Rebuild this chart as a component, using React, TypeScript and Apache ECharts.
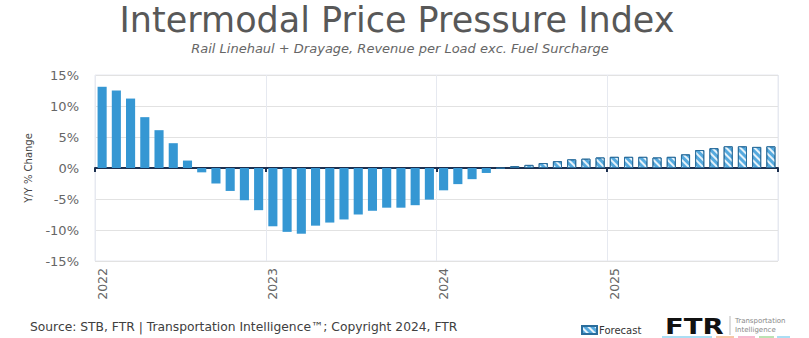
import React, { useEffect, useRef } from "react";
import * as echarts from "echarts";

const months: string[] = [];
for (const y of [2022, 2023, 2024, 2025]) {
  for (let m = 1; m <= 12; m++) months.push(`${y}-${m < 10 ? "0" + m : m}`);
}

// Actual Y/Y % change, Jan 2022 - Apr 2024
const actualValues = [
  13.1, 12.5, 11.2, 8.2, 6.1, 4.0, 1.2, -0.7, -2.5, -3.7, -5.2, -6.8,
  -9.4, -10.3, -10.6, -9.3, -8.8, -8.3, -7.5, -6.9, -6.4, -6.4, -6.0, -5.1,
  -3.6, -2.6, -1.8, -0.8,
];
// Forecast Y/Y % change, May 2024 - Dec 2025
const forecastValues = [
  -0.1, 0.3, 0.5, 0.8, 1.1, 1.4, 1.5, 1.7,
  1.8, 1.8, 1.8, 1.7, 1.8, 2.2, 2.9, 3.2, 3.5, 3.5, 3.4, 3.5,
];
const yTicks = [-15, -10, -5, 0, 5, 10, 15];

const FONT = "DejaVu Sans";

export default function App() {
  const ref = useRef<HTMLDivElement>(null);
  useEffect(() => {
    if (!ref.current) return;
    const chart = echarts.init(ref.current, undefined, { renderer: "svg" });
    const nA = actualValues.length;
    const actualData = months.map((_, i) => (i < nA ? actualValues[i] : null));
    const forecastData = months.map((_, i) => (i >= nA ? forecastValues[i - nA] : null));

    chart.setOption({
      animation: false,
      backgroundColor: "#ffffff",
      grid: {
        left: 95,
        right: 31,
        top: 75,
        bottom: 77,
        show: true,
        borderColor: "#e6e9f0",
        borderWidth: 1,
      },
      legend: {
        data: ["Forecast"],
        left: 576,
        top: 320,
        itemWidth: 15,
        itemHeight: 8,
        itemGap: 2,
        icon: "rect",
        textStyle: { fontSize: 10, color: "#333", fontFamily: FONT, padding: [0, 0, 0, -3] },
      },
      xAxis: [
        {
          type: "category",
          data: months,
          position: "bottom",
          axisLine: { show: false, onZero: false },
          axisTick: { show: false },
          axisLabel: {
            interval: 11,
            rotate: 90,
            margin: 7,
            fontSize: 12.5,
            color: "#666",
            fontFamily: FONT,
            formatter: (v: string) => v.slice(0, 4),
          },
          splitLine: { show: true, interval: 11, lineStyle: { color: "#e6e9f0", width: 1 } },
        },
        {
          type: "category",
          data: months,
          position: "bottom",
          axisLine: { show: true, onZero: true, lineStyle: { color: "#1c2f4f", width: 2 } },
          axisTick: { show: true, interval: 11, length: 4, lineStyle: { color: "#1c2f4f", width: 2 } },
          axisLabel: { show: false },
          splitLine: { show: false },
        },
      ],
      yAxis: {
        type: "value",
        min: yTicks[0],
        max: yTicks[yTicks.length - 1],
        interval: 5,
        name: "Y/Y % Change",
        nameLocation: "middle",
        nameGap: 62,
        nameTextStyle: { fontSize: 10, color: "#444", fontFamily: FONT },
        axisLine: { show: false },
        axisTick: { show: false },
        axisLabel: {
          margin: 16,
          fontSize: 13,
          color: "#666",
          fontFamily: FONT,
          formatter: (v: number) => `${v}%`,
        },
        splitLine: { lineStyle: { color: "#e2e2e2", width: 1 } },
      },
      series: [
        {
          name: "Actual",
          type: "bar",
          xAxisIndex: 0,
          data: actualData,
          barCategoryGap: "36%",
          barGap: "-100%",
          itemStyle: { color: "#3597d3" },
        },
        {
          name: "Forecast",
          type: "bar",
          xAxisIndex: 0,
          data: forecastData,
          barCategoryGap: "36%",
          barGap: "-100%",
          itemStyle: {
            color: "#55a9de",
            borderColor: "#2a6d9c",
            borderWidth: 1,
            decal: {
              symbol: "rect",
              color: "rgba(255,255,255,0.85)",
              dashArrayX: [1, 0],
              dashArrayY: [2, 3],
              rotation: Math.PI / 4,
            },
          },
        },
      ],
      graphic: [
        {
          type: "text",
          x: 397,
          y: 20,
          style: {
            text: "Intermodal Price Pressure Index",
            fontSize: 35,
            fontFamily: "Liberation Sans Narrow, " + FONT,
            fill: "#585858",
            textAlign: "center",
            textVerticalAlign: "middle",
          },
        },
        {
          type: "text",
          x: 400,
          y: 48,
          style: {
            text: "Rail Linehaul + Drayage, Revenue per Load exc. Fuel Surcharge",
            fontSize: 13,
            fontStyle: "italic",
            fontFamily: FONT,
            fill: "#666",
            textAlign: "center",
            textVerticalAlign: "middle",
          },
        },
        {
          type: "text",
          x: 30,
          y: 327,
          style: {
            text: "Source: STB, FTR | Transportation Intelligence™; Copyright 2024, FTR",
            fontSize: 12.3,
            fontFamily: FONT,
            fill: "#404040",
            textVerticalAlign: "middle",
          },
        },
        {
          type: "text",
          x: 665,
          y: 326,
          scaleX: 1.25,
          style: {
            text: "FTR",
            fontSize: 22,
            fontWeight: "bold",
            fontFamily: FONT,
            fill: "#111",
            textVerticalAlign: "middle",
          },
        },
        {
          type: "line",
          shape: { x1: 730, y1: 316, x2: 730, y2: 335 },
          style: { stroke: "#bbb", lineWidth: 1 },
        },
        {
          type: "text",
          x: 735,
          y: 321,
          style: { text: "Transportation", fontSize: 7, fontFamily: FONT, fill: "#888", textVerticalAlign: "middle" },
        },
        {
          type: "text",
          x: 735,
          y: 330,
          style: { text: "Intelligence", fontSize: 7, fontFamily: FONT, fill: "#888", textVerticalAlign: "middle" },
        },
        { type: "line", shape: { x1: 662, y1: 337, x2: 712, y2: 337 }, style: { stroke: "#8fd3f0", lineWidth: 1.5 } },
        { type: "line", shape: { x1: 716, y1: 337, x2: 734, y2: 337 }, style: { stroke: "#f5b58a", lineWidth: 1.5 } },
        { type: "line", shape: { x1: 738, y1: 337, x2: 755, y2: 337 }, style: { stroke: "#f3a3c0", lineWidth: 1.5 } },
        { type: "line", shape: { x1: 759, y1: 337, x2: 774, y2: 337 }, style: { stroke: "#a6d89a", lineWidth: 1.5 } },
        { type: "line", shape: { x1: 777, y1: 337, x2: 790, y2: 337 }, style: { stroke: "#8fd3f0", lineWidth: 1.5 } },
      ],
    });
    return () => chart.dispose();
  }, []);
  return (
    <div
      ref={ref}
      style={{ position: "fixed", left: 0, top: 0, width: 809, height: 338, background: "#fff" }}
    />
  );
}
